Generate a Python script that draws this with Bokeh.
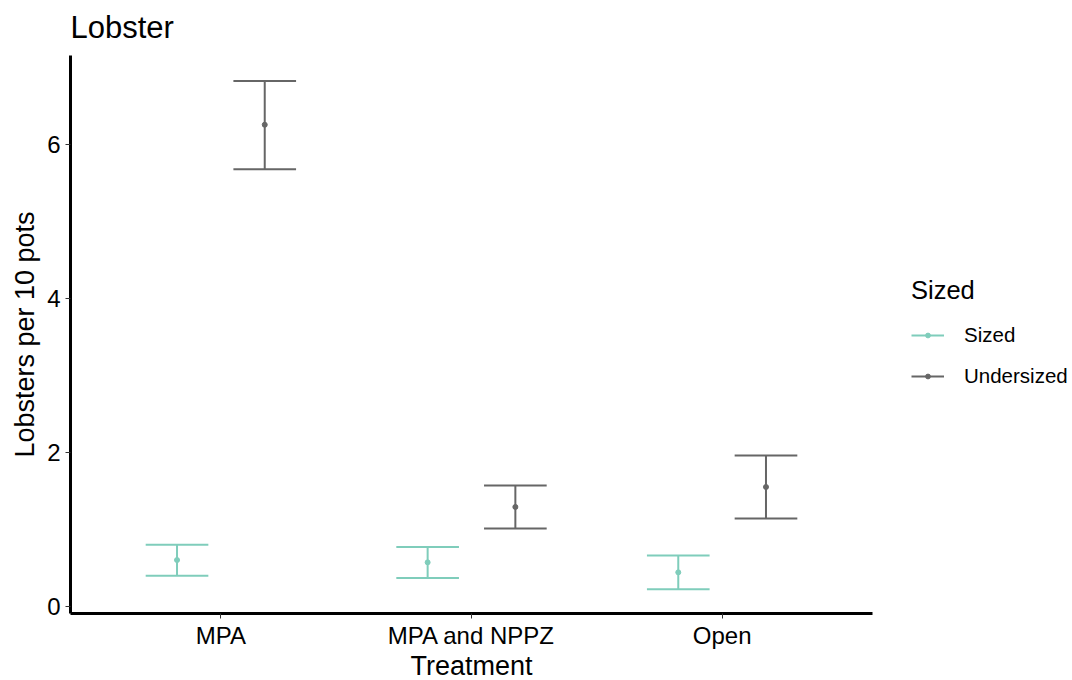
from bokeh.plotting import figure
from bokeh.models import FactorRange, Range1d, Legend, LegendItem, ColumnDataSource, FixedTicker
from bokeh.transform import dodge
from bokeh.embed import file_html
from bokeh.resources import INLINE

categories = ["MPA", "MPA and NPPZ", "Open"]
series = ["Sized", "Undersized"]
colors = ["#7fcdbb", "#666666"]

sized_mean = [0.60, 0.57, 0.44]
sized_lower = [0.395, 0.365, 0.22]
sized_upper = [0.80, 0.77, 0.66]

under_mean = [6.26, 1.29, 1.55]
under_lower = [5.68, 1.01, 1.14]
under_upper = [6.83, 1.57, 1.96]

y_ticks = [0, 2, 4, 6]

FONT = "Liberation Sans"

p = figure(
    frame_width=802, frame_height=558,
    x_range=FactorRange(*categories, range_padding=0.1, range_padding_units="absolute"),
    y_range=Range1d(-0.095, 7.16),
    output_backend="svg", toolbar_location=None,
    min_border_left=70, min_border_right=200, min_border_top=55, min_border_bottom=67,
)
p.outline_line_color = None
p.xgrid.visible = False
p.ygrid.visible = False
p.background_fill_color = "white"
p.border_fill_color = "white"

p.title.text = "Lobster"
p.title.text_font = FONT
p.title.text_font_size = "31px"
p.title.text_font_style = "normal"
p.title.text_color = "black"
p.title.align = "left"
p.title.vertical_align = "top"
p.title.standoff = 17

for ax in (p.xaxis[0], p.yaxis[0]):
    ax.axis_line_width = 3
    ax.axis_line_color = "black"
    ax.major_tick_line_color = "#333333"
    ax.major_tick_line_width = 1
    ax.major_tick_out = 5
    ax.major_tick_in = 0
    ax.minor_tick_line_color = None
    ax.major_label_text_font = FONT
    ax.major_label_text_font_size = "24px"
    ax.major_label_text_color = "black"
    ax.axis_label_text_font = FONT
    ax.axis_label_text_font_size = "27px"
    ax.axis_label_text_font_style = "normal"
    ax.axis_label_text_color = "black"

p.xaxis.axis_label = "Treatment"
p.yaxis.axis_label = "Lobsters per 10 pots"
p.yaxis.ticker = FixedTicker(ticks=y_ticks)
p.xaxis.major_label_standoff = 3
p.xaxis.axis_label_standoff = -1
p.yaxis.major_label_standoff = 5
p.yaxis.axis_label_standoff = 4

dodge_off = [-0.175, 0.175]
cap_half = 0.125
data = [(sized_mean, sized_lower, sized_upper), (under_mean, under_lower, under_upper)]

items = []
for name, col, off, (m, lo, up) in zip(series, colors, dodge_off, data):
    src = ColumnDataSource(dict(cat=categories, mean=m, lower=lo, upper=up))
    xc = dodge("cat", off, range=p.x_range)
    xl = dodge("cat", off - cap_half, range=p.x_range)
    xr = dodge("cat", off + cap_half, range=p.x_range)
    v = p.segment(x0=xc, y0="lower", x1=xc, y1="upper", source=src, line_color=col, line_width=2)
    p.segment(x0=xl, y0="upper", x1=xr, y1="upper", source=src, line_color=col, line_width=2)
    p.segment(x0=xl, y0="lower", x1=xr, y1="lower", source=src, line_color=col, line_width=2)
    s = p.scatter(x=xc, y="mean", source=src, size=5, fill_color=col, line_color=col)
    items.append(LegendItem(label=name, renderers=[v, s]))

legend = Legend(
    items=items, title="Sized", location=(39, 225),
    title_text_font=FONT, title_text_font_size="25.5px", title_text_color="black",
    title_text_font_style="normal",
    title_standoff=18,
    label_text_font=FONT, label_text_font_size="20.5px", label_text_color="black",
    border_line_color=None, background_fill_alpha=0,
    glyph_width=33, glyph_height=12, label_standoff=20, spacing=17,
    margin=39, padding=10,
)
p.add_layout(legend, "right")

open("out.html", "w").write(file_html(p, INLINE))
